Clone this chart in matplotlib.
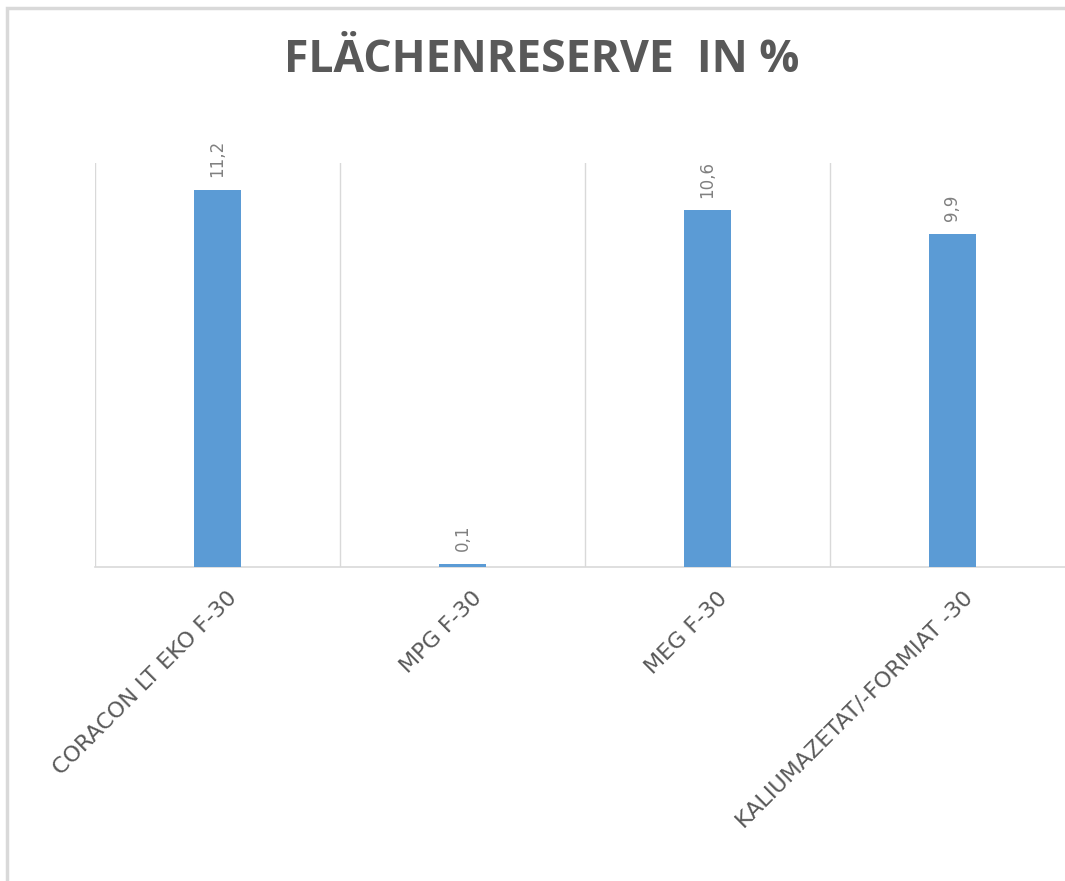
import matplotlib
matplotlib.use("Agg")
import matplotlib.pyplot as plt
from matplotlib.patches import Rectangle

categories = ["CORACON LT EKO F-30", "MPG F-30", "MEG F-30", "KALIUMAZETAT/-FORMIAT -30"]
values = [11.2, 0.1, 10.6, 9.9]
value_labels = ["11,2", "0,1", "10,6", "9,9"]
title = "FLÄCHENRESERVE  IN %"

W, H = 1065, 881
fig = plt.figure(figsize=(W / 100, H / 100), dpi=100)
fig.patch.set_facecolor("white")

# chart frame (cropped on right/bottom)
fig.patches.append(Rectangle((7 / W, -0.05), 1.2, 1 - 8 / H + 0.05, transform=fig.transFigure,
                             fill=False, edgecolor="#d9d9d9", linewidth=2.5, zorder=0))

ax = fig.add_axes([95 / W, 1 - 567 / H, (1075 - 95) / W, (567 - 163) / H])
x = list(range(len(categories)))
ax.bar(x, values, width=0.19, color="#5B9BD5", zorder=3)
ax.set_xlim(-0.5, len(categories) - 0.5)
ax.set_ylim(0, 12)

for s in ["top", "right", "left"]:
    ax.spines[s].set_visible(False)
ax.spines["bottom"].set_color("#d9d9d9")
ax.spines["bottom"].set_linewidth(1.2)
ax.set_yticks([])
for b in [i - 0.5 for i in range(len(categories) + 1)]:
    ax.axvline(b, color="#d9d9d9", linewidth=1.0, zorder=1)

ax.set_xticks(x)
ax.set_xticklabels([])
ax.tick_params(axis="x", length=0)
for xi, c in zip(x, categories):
    ax.annotate(c, xy=(xi, 0), xycoords=("data", "axes fraction"), xytext=(7, -15),
                textcoords="offset points", rotation=45, ha="right", va="top",
                rotation_mode="anchor", fontsize=16, color="#595959",
                family="DejaVu Sans")

for xi, v, lab in zip(x, values, value_labels):
    ax.annotate(lab, xy=(xi, v), xytext=(0, 9), textcoords="offset points",
                rotation=90, ha="center", va="bottom", fontsize=12, color="#808080")

fig.text(542 / W, 1 - 60 / H, title, ha="center", va="center", fontsize=32,
         fontweight="bold", color="#595959", family=["Liberation Sans Narrow", "Open Sans"])

fig.savefig("out.png", dpi=100, facecolor="white")
